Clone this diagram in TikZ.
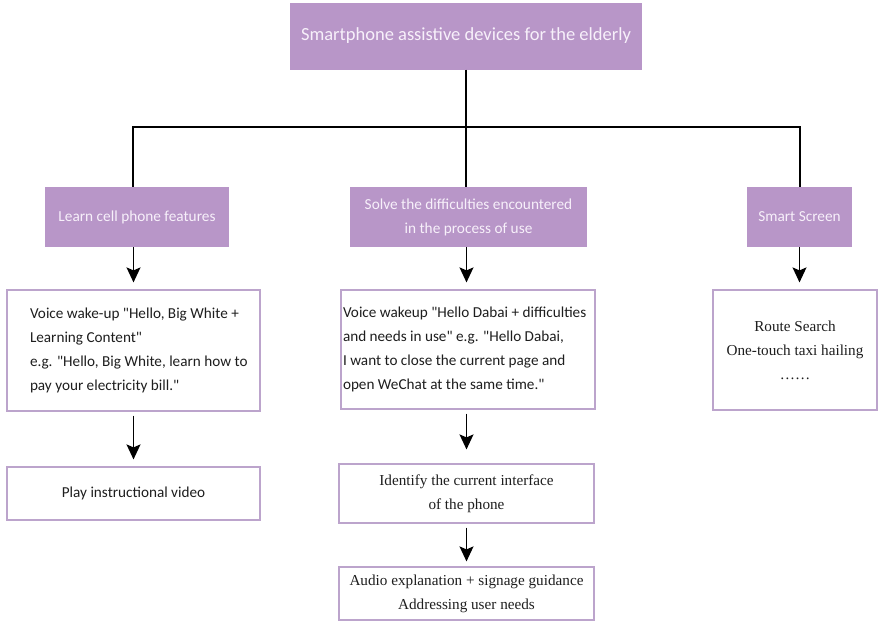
\documentclass[tikz,border=0pt]{standalone}
\usepackage{fontspec}
\setmainfont{Carlito}[Ligatures=TeXOff]
\newfontfamily\serifface{Liberation Serif}
\usetikzlibrary{arrows.meta}
\definecolor{boxpurple}{HTML}{B896C8}
\definecolor{edgepurple}{HTML}{BCA4CC}
\definecolor{lighttext}{HTML}{F7F0FA}
\definecolor{inktext}{HTML}{1E1E1E}
\begin{document}
\begin{tikzpicture}[x=1pt,y=-1pt,
  headbox/.style={draw=none,fill=boxpurple,text=lighttext,align=center,inner sep=0pt,
    font=\fontsize{15.3}{24}\selectfont},
  itembox/.style={draw=edgepurple,line width=1.2pt,fill=white,text=inktext,inner sep=0pt,
    font=\fontsize{15.2}{24}\selectfont},
  serifbox/.style={itembox,align=center,font=\serifface\fontsize{15.2}{24}\selectfont},
  link/.style={line width=1.3pt,black},
  flow/.style={line width=1.3pt,black,-{Stealth[width=14pt,length=15pt,inset=3pt]}}
]
\useasboundingbox (0,0) rectangle (881,627);

\node[headbox,minimum width=352pt,minimum height=67pt,font=\fontsize{18.5}{22}\selectfont] (top) at (466,36) {Smartphone assistive devices for the elderly};

\node[headbox,minimum width=184pt,minimum height=60pt] (learn) at (137,217) {Learn cell phone features};
\node[headbox,minimum width=237pt,minimum height=60pt] (solve) at (468.5,217) {Solve the difficulties encountered\\in the process of use};
\node[headbox,minimum width=105pt,minimum height=60pt] (smart) at (799.5,217) {Smart Screen};

\node[itembox,minimum width=253pt,minimum height=121pt,align=left] (vw1) at (133.5,350.5)
  {\hspace{11pt}\parbox{218pt}{\raggedright Voice wake-up "Hello, Big White +\\Learning Content"\\e.g. "Hello, Big White, learn how to\\pay your electricity bill."}};
\node[itembox,minimum width=253pt,minimum height=53pt] (play) at (133.5,493.5) {Play instructional video};

\node[itembox,minimum width=254pt,minimum height=119pt,align=left] (vw2) at (468,349.5)
  {\parbox{250pt}{\raggedright Voice wakeup "Hello Dabai + difficulties\\and needs in use" e.g. "Hello Dabai,\\I want to close the current page and\\open WeChat at the same time."}};
\node[serifbox,minimum width=255pt,minimum height=59pt] (ident) at (466.5,493.5) {Identify the current interface\\of the phone};
\node[serifbox,minimum width=255pt,minimum height=53pt] (audio) at (466.5,593.5) {Audio explanation + signage guidance\\Addressing user needs};

\node[serifbox,minimum width=164pt,minimum height=120pt] (route) at (795,350) {Route Search\\One-touch taxi hailing\\……};

\coordinate (hub) at (466,127);
\draw[link] (top.south) -- (hub);
\draw[link] (learn.north -| 133,0) |- (hub) -| (smart.north -| 800,0);
\draw[link] (hub) -- (solve.north -| hub);

\draw[flow,shorten >=7pt] (learn.south -| vw1.north) -- (vw1.north);
\draw[flow,shorten <=4pt,shorten >=7pt] (vw1.south) -- (play.north);
\draw[flow,shorten >=7pt] (solve.south -| ident.north) -- (vw2.north -| ident.north);
\draw[flow,shorten <=4pt,shorten >=14pt] (vw2.south -| ident.north) -- (ident.north);
\draw[flow,shorten <=4pt,shorten >=5pt] (ident.south) -- (audio.north);
\draw[flow,shorten >=7pt] (smart.south) -- (smart.south |- route.north);
\end{tikzpicture}
\end{document}
